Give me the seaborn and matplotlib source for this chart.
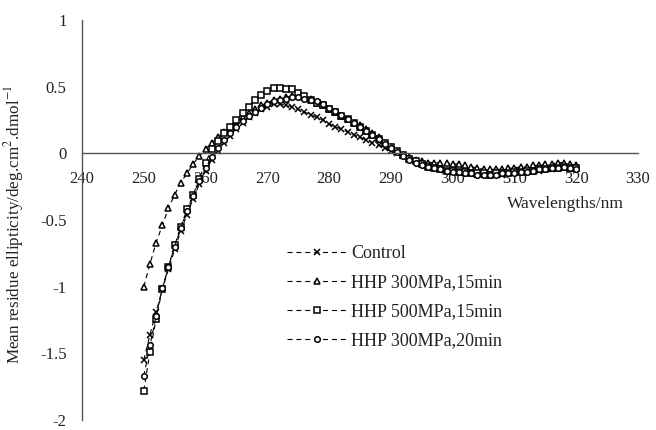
import matplotlib
matplotlib.use("Agg")
import matplotlib.pyplot as plt
import seaborn as sns
import pandas as pd

wavelength = list(range(250, 321))

control = [-1.55, -1.36, -1.19, -1.02, -0.87, -0.72, -0.58, -0.46, -0.34, -0.23,
           -0.13, -0.05, 0.02, 0.08, 0.13, 0.18, 0.23, 0.27, 0.30, 0.33,
           0.35, 0.37, 0.37, 0.36, 0.35, 0.33, 0.31, 0.29, 0.27, 0.25,
           0.22, 0.20, 0.18, 0.16, 0.14, 0.12, 0.10, 0.08, 0.06, 0.04,
           0.02, 0.00, -0.02, -0.04, -0.06, -0.08, -0.09, -0.11, -0.12, -0.13,
           -0.14, -0.14, -0.15, -0.15, -0.16, -0.16, -0.16, -0.15, -0.16, -0.15,
           -0.15, -0.14, -0.14, -0.13, -0.13, -0.12, -0.12, -0.11, -0.11, -0.12,
           -0.12]

hhp300_15 = [-1.00, -0.83, -0.67, -0.54, -0.41, -0.31, -0.22, -0.15, -0.08, -0.02,
             0.03, 0.08, 0.12, 0.16, 0.20, 0.24, 0.27, 0.30, 0.33, 0.36,
             0.38, 0.40, 0.41, 0.42, 0.43, 0.43, 0.42, 0.41, 0.38, 0.36,
             0.33, 0.31, 0.28, 0.26, 0.23, 0.21, 0.18, 0.15, 0.12, 0.08,
             0.05, 0.02, -0.01, -0.03, -0.05, -0.06, -0.07, -0.07, -0.07, -0.07,
             -0.08, -0.08, -0.09, -0.10, -0.11, -0.12, -0.12, -0.12, -0.12, -0.11,
             -0.11, -0.10, -0.10, -0.09, -0.09, -0.08, -0.08, -0.07, -0.07, -0.08,
             -0.09]

hhp500_15 = [-1.78, -1.49, -1.24, -1.02, -0.85, -0.69, -0.55, -0.42, -0.31, -0.19,
             -0.07, 0.03, 0.09, 0.15, 0.20, 0.25, 0.30, 0.35, 0.40, 0.44,
             0.47, 0.49, 0.49, 0.48, 0.48, 0.45, 0.43, 0.40, 0.38, 0.36,
             0.33, 0.31, 0.28, 0.26, 0.23, 0.20, 0.17, 0.14, 0.11, 0.08,
             0.05, 0.02, -0.01, -0.04, -0.06, -0.08, -0.10, -0.11, -0.12, -0.13,
             -0.13, -0.14, -0.14, -0.15, -0.15, -0.15, -0.16, -0.15, -0.15, -0.15,
             -0.14, -0.14, -0.13, -0.13, -0.12, -0.12, -0.11, -0.11, -0.10, -0.11,
             -0.11]

hhp300_20 = [-1.67, -1.44, -1.22, -1.01, -0.85, -0.70, -0.56, -0.43, -0.32, -0.21,
             -0.11, -0.03, 0.04, 0.10, 0.15, 0.20, 0.24, 0.28, 0.31, 0.34,
             0.37, 0.39, 0.40, 0.41, 0.42, 0.42, 0.41, 0.40, 0.39, 0.37,
             0.34, 0.32, 0.29, 0.26, 0.23, 0.20, 0.17, 0.14, 0.11, 0.07,
             0.04, 0.01, -0.02, -0.05, -0.07, -0.09, -0.10, -0.11, -0.12, -0.13,
             -0.14, -0.14, -0.15, -0.15, -0.16, -0.16, -0.16, -0.16, -0.15, -0.15,
             -0.15, -0.14, -0.14, -0.13, -0.12, -0.12, -0.11, -0.11, -0.10, -0.11,
             -0.12]

series_names = ["Control", "HHP 300MPa,15min", "HHP 500MPa,15min", "HHP 300MPa,20min"]
series_values = [control, hhp300_15, hhp500_15, hhp300_20]
series_markers = ["x", "^", "s", "o"]

x_ticks = [240, 250, 260, 270, 280, 290, 300, 310, 320, 330]
y_ticks = [-2, -1.5, -1, -0.5, 0, 0.5, 1]
y_tick_labels = ["-2", "-1.5", "-1", "-0.5", "0", "0.5", "1"]

sns.set_style("white")
plt.rcParams["font.family"] = ["Liberation Serif", "DejaVu Serif"]
plt.rcParams["mathtext.fontset"] = "stix"

fig = plt.figure(figsize=(6.56, 4.30), dpi=100)
ax = fig.add_axes([0.125, 0.0233, 0.8476, 0.9302])

# una línea discontinua con marcador por tratamiento
for name, vals, m in zip(series_names, series_values, series_markers):
    df = pd.DataFrame({"wl": wavelength, "val": vals})
    sns.lineplot(data=df, x="wl", y="val", ax=ax, color="black",
                 linestyle=(0, (4.5, 3.5)), linewidth=0.8, dashes=False,
                 marker=m, markersize=4,
                 markerfacecolor="white" if m != "x" else "black",
                 markeredgecolor="black", markeredgewidth=1.1, label=name)

ax.set_xlim(240, 330)
ax.set_ylim(-2, 1)
ax.set_xticks(x_ticks)
ax.set_yticks(y_ticks)
ax.set_yticklabels(y_tick_labels)

for s in ["top", "right"]:
    ax.spines[s].set_visible(False)
ax.spines["bottom"].set_position(("data", 0))
for s in ["left", "bottom"]:
    ax.spines[s].set_color("#555555")
    ax.spines[s].set_linewidth(1.0)
ax.tick_params(direction="in", length=4, width=1, color="#555555",
               labelsize=12, labelcolor="#222222")
ax.tick_params(axis="y", pad=11)
ax.tick_params(axis="x", pad=12.5)

ax.set_xlabel("")
ax.set_ylabel("Mean residue ellipticity/deg.cm$^{2}$.dmol$^{-1}$",
              fontsize=12.3, color="#222222")
ax.yaxis.set_label_coords(-0.1, 0.49)
ax.text(318.2, -0.38, "Wavelengths/nm", fontsize=12.5, color="#222222",
        ha="center", va="center")

ax.legend(loc="upper left", bbox_to_anchor=(0.353, 0.46), frameon=False,
          borderpad=0, fontsize=13, handlelength=3.3, numpoints=1,
          labelspacing=0.67, handletextpad=0.22, labelcolor="#222222")

fig.savefig("out.png", dpi=100)
